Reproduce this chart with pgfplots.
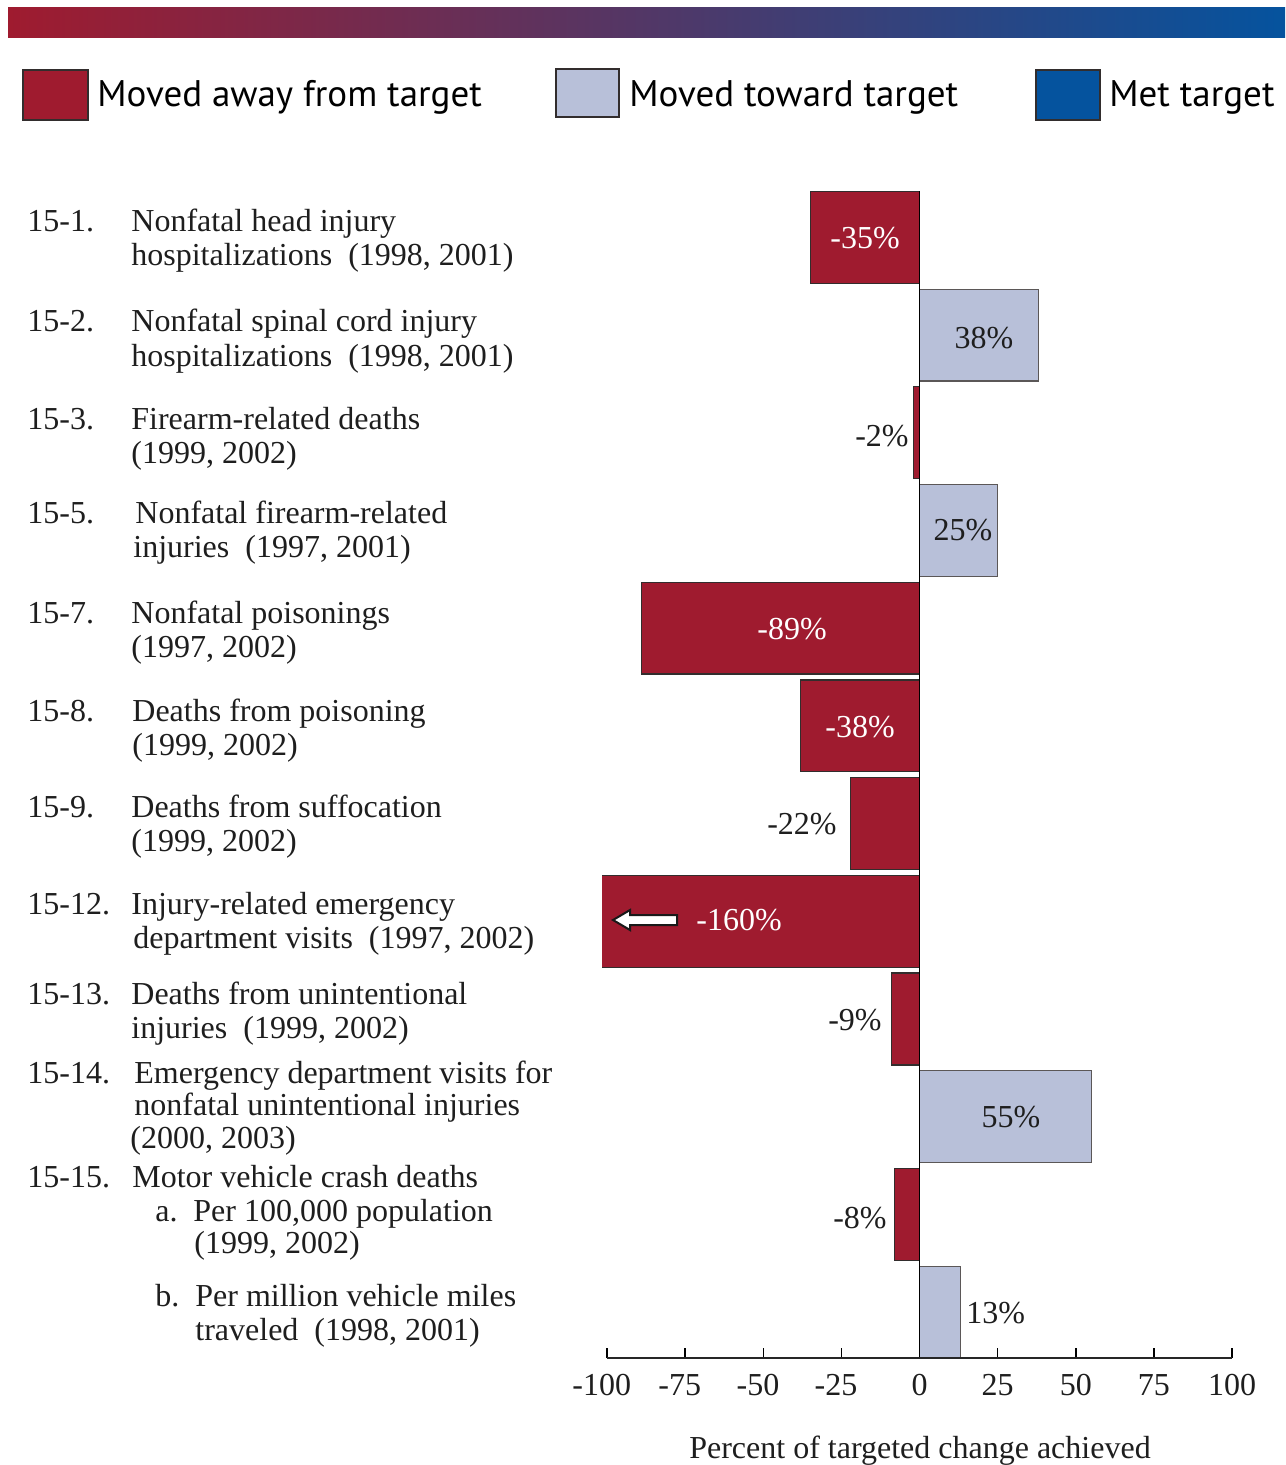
\documentclass[border=0pt]{standalone}
\usepackage{pgfplots}
\pgfplotsset{compat=1.18}
\usepackage{fontspec}
\setmainfont{Liberation Serif}
\newfontfamily\legfont{PT Sans}
\definecolor{awayred}{RGB}{159,27,47}
\definecolor{towardblue}{RGB}{184,192,217}
\definecolor{metblue}{RGB}{5,83,158}
\definecolor{edge}{RGB}{50,45,45}
\definecolor{txt}{RGB}{30,30,30}
\newcommand\lab[3]{\node[anchor=base west, inner sep=0pt, text=txt] at (#1,#2) {#3};}
\begin{document}
\begin{tikzpicture}
\useasboundingbox (0,0) rectangle (642.5pt,-732.5pt);
\begin{axis}[
  at={(301pt,-679pt)}, anchor=south west,
  scale only axis, width=315pt, height=584.75pt,
  xmin=-101.6, xmax=100, ymin=0.53, ymax=12.5,
  axis x line*=bottom, axis y line=none,
  x axis line style={draw=none},
  xtick={-100,-75,-50,-25,0,25,50,75,100},
  xticklabels={\llap{-}100,\llap{-}75,\llap{-}50,\llap{-}25,0,25,50,75,100},
  xtick align=inside, major tick length=5pt,
  xtick style={black, line width=0.75pt},
  xticklabel style={font=\fontsize{16}{19}\selectfont, anchor=base, yshift=-18.5pt, text=txt},
  ytick=\empty,
]
\addplot[xbar, bar shift=0pt, bar width=0.94, fill=awayred, draw=edge, line width=0.6pt]
  coordinates {(-35,12) (-2,10) (-89,8) (-38,7) (-22,6) (-160,5) (-9,4) (-8,2)};
\addplot[xbar, bar shift=0pt, bar width=0.94, fill=towardblue, draw=edge!80, line width=0.6pt]
  coordinates {(38,11) (25,9) (55,3) (13,1)};
\draw[black, line width=0.75pt] (axis cs:0,0.53) -- (axis cs:0,12.47);
\draw[black!85, line width=1pt] (axis cs:-100,0.53) -- (axis cs:100,0.53);
\end{axis}
\begin{scope}[x=0.5pt, y=-0.5pt]
% gradient band
\shade[left color=awayred, right color=metblue] (8,8) rectangle (1285,38);
% legend
\draw[edge, line width=0.6pt, fill=awayred] (23,70) rectangle (88,120);
\draw[edge, line width=0.6pt, fill=towardblue] (556,69) rectangle (619,117);
\draw[edge, line width=0.6pt, fill=metblue] (1036,70) rectangle (1100,120);
\begin{scope}[every node/.style={anchor=base west, inner sep=0pt, text=black, font=\fontsize{18.5}{22}\legfont}]
\node at (97,107) {Moved away from target};
\node at (629,107) {Moved toward target};
\node at (1109,107) {Met target};
\end{scope}
% left labels
\begin{scope}[font=\fontsize{16}{17}\selectfont]
\lab{27}{232}{15-1.}\lab{131}{232}{Nonfatal head injury}\lab{131}{266}{hospitalizations\ \ (1998, 2001)}
\lab{27}{332}{15-2.}\lab{131}{332}{Nonfatal spinal cord injury}\lab{131}{366}{hospitalizations\ \ (1998, 2001)}
\lab{27}{429}{15-3.}\lab{131}{429}{Firearm-related deaths}\lab{131}{463}{(1999, 2002)}
\lab{27}{523}{15-5.}\lab{135}{523}{Nonfatal firearm-related}\lab{133}{557}{injuries\ \ (1997, 2001)}
\lab{27}{623}{15-7.}\lab{131}{623}{Nonfatal poisonings}\lab{131}{657}{(1997, 2002)}
\lab{27}{721}{15-8.}\lab{132}{721}{Deaths from poisoning}\lab{132}{755}{(1999, 2002)}
\lab{27}{817}{15-9.}\lab{131}{817}{Deaths from suffocation}\lab{131}{851}{(1999, 2002)}
\lab{27}{914}{15-12.}\lab{131}{914}{Injury-related emergency}\lab{133}{948}{department visits\ \ (1997, 2002)}
\lab{27}{1004}{15-13.}\lab{131}{1004}{Deaths from unintentional}\lab{131}{1038}{injuries\ \ (1999, 2002)}
\lab{27}{1083}{15-14.}\lab{134}{1083}{Emergency department visits for}\lab{134}{1115}{nonfatal unintentional injuries}\lab{130}{1148}{(2000, 2003)}
\lab{27}{1187}{15-15.}\lab{132}{1187}{Motor vehicle crash deaths}
\lab{155}{1221}{a.}\lab{193}{1221}{Per 100,000 population}\lab{194}{1253}{(1999, 2002)}
\lab{155}{1306}{b.}\lab{195}{1306}{Per million vehicle miles}\lab{195}{1340}{traveled\ \ (1998, 2001)}
\end{scope}
% bar value labels
\begin{scope}[every node/.style={inner sep=0pt, font=\fontsize{16}{19}\selectfont}]
\node[text=white] at (865,238) {-35\%};
\node[text=txt] at (984,338) {38\%};
\node[text=txt, anchor=east] at (909,436) {-2\%};
\node[text=txt] at (963,530) {25\%};
\node[text=white] at (792,629) {-89\%};
\node[text=white] at (860,727) {-38\%};
\node[text=txt, anchor=east] at (837,824) {-22\%};
\node[text=white] at (739,920) {-160\%};
\node[text=txt, anchor=east] at (882,1020) {-9\%};
\node[text=txt] at (1011,1117) {55\%};
\node[text=txt, anchor=east] at (887,1218) {-8\%};
\node[text=txt, anchor=west] at (966,1313) {13\%};
\end{scope}
% arrow in the -160 bar
\draw[fill=white, draw=black!90, line width=1pt, line join=miter]
  (613,920) -- (630,910) -- (630,915) -- (677,915) -- (677,925) -- (630,925) -- (630,930) -- cycle;
% x axis title
\node[anchor=base, inner sep=0pt, text=txt, font=\fontsize{16}{19}\selectfont] at (920,1458) {Percent of targeted change achieved};
\end{scope}
\end{tikzpicture}
\end{document}
